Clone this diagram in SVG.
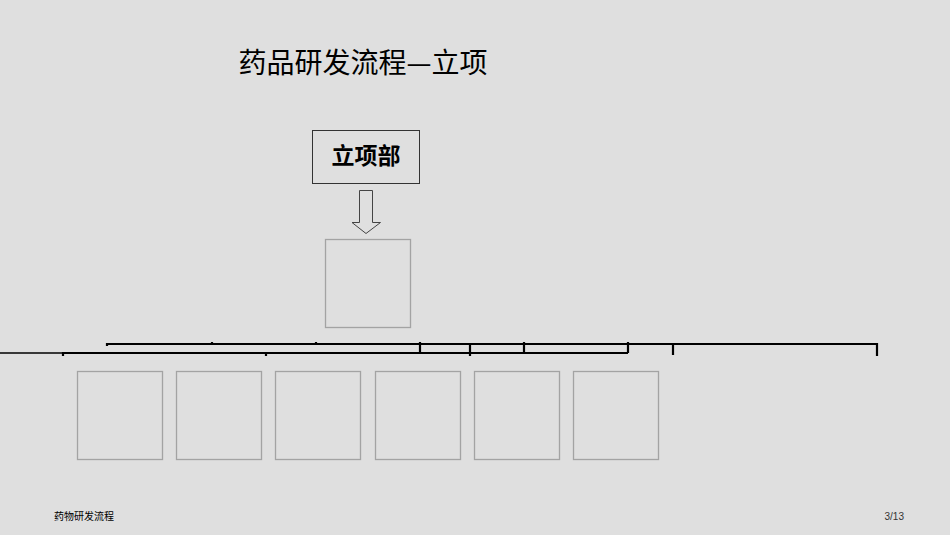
<svg xmlns="http://www.w3.org/2000/svg" width="950" height="535" viewBox="0 0 950 535">
<style>
.bg{fill:#dfdfdf}
.gbox{fill:none;stroke:#a3a3a3;stroke-width:1.3}
.line{fill:none;stroke:#000;stroke-width:2.2;stroke-linecap:butt}
.thin{fill:none;stroke:#000;stroke-width:1.4}
.cjk{font-family:"Noto Sans CJK SC","Liberation Sans",sans-serif;fill:#000}
</style>
<rect class="bg" x="0" y="0" width="950" height="535"/>
<text class="cjk" x="363" y="73" font-size="28" text-anchor="middle" fill="#111">药品研发流程—立项</text>
<g id="dept">
<rect x="312.5" y="130.5" width="107" height="53" fill="#dfdfdf" stroke="#333" stroke-width="1"/>
<text class="cjk" x="366" y="164" font-size="23" font-weight="bold" text-anchor="middle">立项部</text>
</g>
<g id="arrow">
<path d="M359.5,190.5 H372.5 V222.5 H380.5 L366,233.5 L352,222.5 H359.5 Z" fill="#dfdfdf" stroke="#444" stroke-width="1"/>
</g>
<g id="mid"><rect class="gbox" x="325.5" y="239.5" width="85" height="88"/></g>
<g id="connectors">
<path class="line" d="M107,344 H877 V356"/>
<path class="line" d="M107,343 V346 M212,342 V345 M316,342 V345"/>
<path class="line" d="M420,342 V354 M470,344 V356 M524,342 V353 M628,342 V353 M673,344 V355"/>
<path class="thin" d="M0,353 H63"/>
<path class="line" d="M63,353 H628"/>
<path class="line" d="M63,352 V356 M266,352 V356"/>
</g>
<g id="b1"><rect class="gbox" x="77.5" y="371.5" width="85" height="88"/></g>
<g id="b2"><rect class="gbox" x="176.5" y="371.5" width="85" height="88"/></g>
<g id="b3"><rect class="gbox" x="275.5" y="371.5" width="85" height="88"/></g>
<g id="b4"><rect class="gbox" x="375.5" y="371.5" width="85" height="88"/></g>
<g id="b5"><rect class="gbox" x="474.5" y="371.5" width="85" height="88"/></g>
<g id="b6"><rect class="gbox" x="573.5" y="371.5" width="85" height="88"/></g>
<text class="cjk" x="54" y="520" font-size="10" fill="#333">药物研发流程</text>
<text x="904" y="520" font-size="10" text-anchor="end" font-family="Liberation Sans, sans-serif" fill="#333">3/13</text>
</svg>
